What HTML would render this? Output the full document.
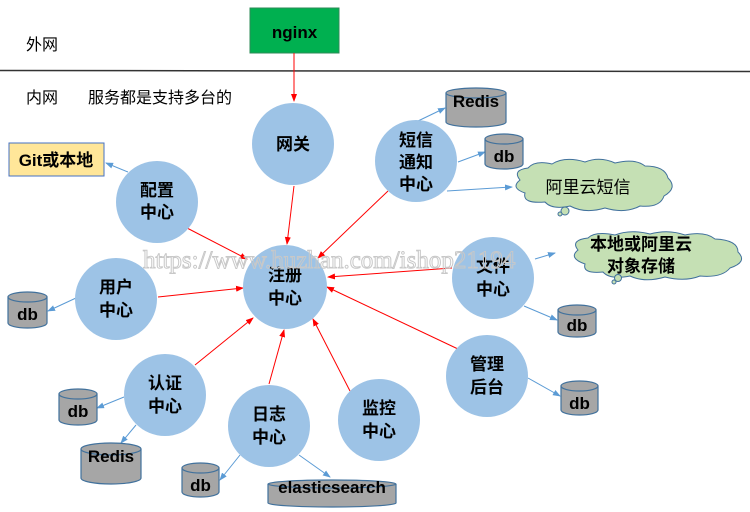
<!DOCTYPE html>
<html><head><meta charset="utf-8"><style>
body{margin:0;background:#fff}
svg{display:block}
text{font-family:"Liberation Sans","Noto Sans CJK SC",sans-serif}
.c{fill:#9dc3e6}
.l{font-size:17px;font-weight:bold;fill:#000;text-anchor:middle}
.cy{fill:#a6a6a6;stroke:#41719c;stroke-width:1.2}
.r{stroke:#ff0000;stroke-width:1;fill:none;marker-end:url(#ar)}
.b{stroke:#5b9bd5;stroke-width:1;fill:none;marker-end:url(#ab)}
.wm{font-family:"Liberation Serif",serif !important}
</style></head><body>
<svg width="750" height="512" viewBox="0 0 750 512" xmlns="http://www.w3.org/2000/svg">
<defs>
<marker id="ar" markerWidth="8" markerHeight="8" refX="7" refY="4" orient="auto" markerUnits="userSpaceOnUse"><path d="M0,1 L8,4 L0,7 Z" fill="#ff0000"/></marker>
<marker id="ab" markerWidth="8" markerHeight="8" refX="7" refY="4" orient="auto" markerUnits="userSpaceOnUse"><path d="M0,1 L8,4 L0,7 Z" fill="#5b9bd5"/></marker>
</defs>
<text x="26" y="50" font-size="16">外网</text>
<line x1="0" y1="70.5" x2="750" y2="71.5" stroke="#333" stroke-width="1.5"/>
<text x="26" y="103" font-size="16">内网</text>
<text x="88" y="103" font-size="16">服务都是支持多台的</text>
<rect x="250" y="8" width="89" height="45" fill="#00b050" stroke="#2e8b57"/>
<text x="294.5" y="38" class="l">nginx</text>
<rect x="9" y="143" width="95" height="33" fill="#ffe699" stroke="#4472c4"/>
<text x="56" y="166" class="l">Git或本地</text>

<path class="r" d="M294,53 L294,101"/>
<path class="r" d="M294,186 L287,244"/>
<path class="r" d="M187,228 L247,259"/>
<path class="r" d="M158,297 L243,288"/>
<path class="r" d="M195,365 L253,318"/>
<path class="r" d="M269,384 L284,330"/>
<path class="r" d="M350,391 L313,319"/>
<path class="r" d="M458,349 L327,287"/>
<path class="r" d="M452,268 L328,277"/>
<path class="r" d="M388,191 L318,258"/>
<path class="b" d="M128,172 L106,163"/>
<path class="b" d="M76,298 L48,311"/>
<path class="b" d="M124,397 L97,408"/>
<path class="b" d="M136,425 L121,443"/>
<path class="b" d="M240,455 L220,480"/>
<path class="b" d="M299,455 L330,477"/>
<path class="b" d="M418,121 L445,108"/>
<path class="b" d="M458,162 L485,152"/>
<path class="b" d="M447,191 L512,187"/>
<path class="b" d="M535,259 L555,253"/>
<path class="b" d="M524,306 L557,320"/>
<path class="b" d="M528,378 L560,396"/>

<circle class="c" cx="293" cy="144" r="41"/><text class="l" x="293" y="150">网关</text>
<circle class="c" cx="285" cy="287" r="42"/><text class="l" x="285" y="281">注册</text><text class="l" x="285" y="304">中心</text>
<circle class="c" cx="157" cy="202" r="41"/><text class="l" x="157" y="196">配置</text><text class="l" x="157" y="218">中心</text>
<circle class="c" cx="116" cy="299" r="41"/><text class="l" x="116" y="293">用户</text><text class="l" x="116" y="316">中心</text>
<circle class="c" cx="165" cy="395" r="41"/><text class="l" x="165" y="389">认证</text><text class="l" x="165" y="412">中心</text>
<circle class="c" cx="269" cy="426" r="41"/><text class="l" x="269" y="420">日志</text><text class="l" x="269" y="443">中心</text>
<circle class="c" cx="379" cy="420" r="41"/><text class="l" x="379" y="414">监控</text><text class="l" x="379" y="437">中心</text>
<circle class="c" cx="487" cy="376" r="41"/><text class="l" x="487" y="370">管理</text><text class="l" x="487" y="393">后台</text>
<circle class="c" cx="493" cy="278" r="41"/><text class="l" x="493" y="272">文件</text><text class="l" x="493" y="295">中心</text>
<circle class="c" cx="416" cy="161" r="41"/><text class="l" x="416" y="146">短信</text><text class="l" x="416" y="168">通知</text><text class="l" x="416" y="190">中心</text>

<g>
<path class="cy" d="M446,93 V122 A30,5 0 0 0 506,122 V93"/><ellipse class="cy" cx="476" cy="93" rx="30" ry="5"/><text class="l" x="476" y="107">Redis</text>
<path class="cy" d="M485,139 V164 A19,5 0 0 0 523,164 V139"/><ellipse class="cy" cx="504" cy="139" rx="19" ry="5"/><text class="l" x="504" y="162">db</text>
<path class="cy" d="M558,310 V332 A19,5 0 0 0 596,332 V310"/><ellipse class="cy" cx="577" cy="310" rx="19" ry="5"/><text class="l" x="577" y="331">db</text>
<path class="cy" d="M561,386 V410 A18.5,5 0 0 0 598,410 V386"/><ellipse class="cy" cx="579.5" cy="386" rx="18.5" ry="5"/><text class="l" x="579.5" y="409">db</text>
<path class="cy" d="M8,297 V323 A19.5,5 0 0 0 47,323 V297"/><ellipse class="cy" cx="27.5" cy="297" rx="19.5" ry="5"/><text class="l" x="27.5" y="320">db</text>
<path class="cy" d="M59,394 V420 A19,5 0 0 0 97,420 V394"/><ellipse class="cy" cx="78" cy="394" rx="19" ry="5"/><text class="l" x="78" y="417">db</text>
<path class="cy" d="M81,449 V478 A30,6 0 0 0 141,478 V449"/><ellipse class="cy" cx="111" cy="449" rx="30" ry="6"/><text class="l" x="111" y="462">Redis</text>
<path class="cy" d="M182,468 V492 A18.5,5 0 0 0 219,492 V468"/><ellipse class="cy" cx="200.5" cy="468" rx="18.5" ry="5"/><text class="l" x="200.5" y="491">db</text>
<path class="cy" d="M268,484 V503 A64,4 0 0 0 396,503 V484"/><ellipse class="cy" cx="332" cy="484" rx="64" ry="4"/><text class="l" x="332" y="493">elasticsearch</text>
</g>

<g fill="#c5e0b4" stroke="#41719c" stroke-width="1">
<path d="M520,180 Q512,170 528,168 Q535,160 552,164 Q565,156 585,162 Q600,156 615,163 Q635,158 645,166 Q665,166 668,178 Q678,188 664,196 Q660,208 640,206 Q625,214 605,208 Q585,214 570,206 Q552,210 545,202 Q522,204 525,193 Q510,188 520,180 Z"/>
<circle cx="565" cy="211" r="4"/><circle cx="560" cy="214" r="2"/>
<path d="M578,250 Q570,240 588,238 Q595,231 615,235 Q630,229 650,234 Q668,229 685,235 Q705,231 715,239 Q738,240 738,252 Q748,262 730,268 Q722,278 700,276 Q685,282 665,277 Q645,283 630,276 Q610,280 603,272 Q582,274 585,264 Q568,258 578,250 Z"/>
<circle cx="618" cy="278" r="3.5"/><circle cx="614" cy="282" r="2"/>
</g>
<text class="l" x="588" y="193" style="font-weight:normal">阿里云短信</text>
<text class="l" x="641" y="250">本地或阿里云</text>
<text class="l" x="641" y="272">对象存储</text>

<text class="wm" x="143" y="268" font-size="25" fill="none" stroke="#c8c8c8" stroke-width="1">https://www.huzhan.com/ishop21194</text>
</svg>
</body></html>
